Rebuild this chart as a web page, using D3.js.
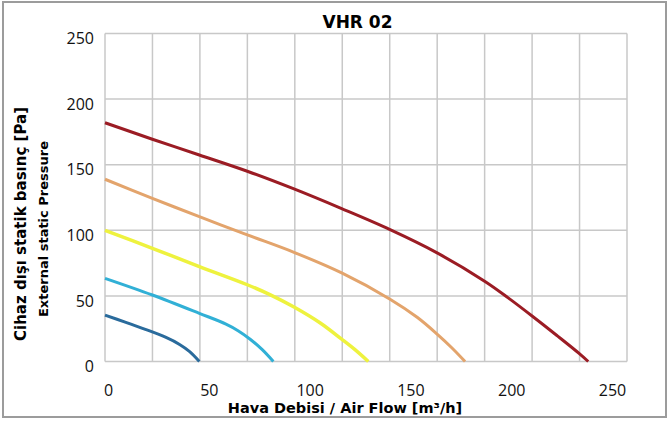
<!DOCTYPE html>
<html>
<head>
<meta charset="utf-8">
<script src="https://cdn.jsdelivr.net/npm/d3@7"></script>
<style>
  html, body { margin: 0; padding: 0; background: #fff; }
  svg { display: block; }
</style>
</head>
<body>
<svg id="chart" width="669" height="421"></svg>
<script>
// ---- data ----
const chartTitle = "VHR 02";
const xTitle = "Hava Debisi / Air Flow [m³/h]";
const yTitleLine1 = "Cihaz dışı statik basınç [Pa]";
const yTitleLine2 = "External static Pressure";
const xTickValues = [0, 50, 100, 150, 200, 250];
const yTickValues = [0, 50, 100, 150, 200, 250];

// fan curves: [air flow m³/h, pressure Pa]
const curveSpeed1 = [[0,35.4],[10,30],[20,24.5],[30,18.5],[37,13],[42,7.5],[46.8,0]];
const curveSpeed2 = [[0,63.4],[23.5,50.7],[46.8,36.7],[60,28.5],[66,23.5],[72,17],[78,9],[83.5,0]];
const curveSpeed3 = [[0,100],[23.5,86.3],[46.8,72.3],[70.6,58.5],[81.8,51],[93.75,41.5],[106.6,29.5],[117.4,17],[124,9],[130.6,0]];
const curveSpeed4 = [[0,138.9],[23.5,124.4],[46.8,110.4],[70.6,96.5],[93.75,83.2],[117.4,67.5],[141.4,47.5],[155,33.5],[165,20.5],[172,10.5],[178.6,0]];
const curveSpeed5 = [[0,182],[23.5,169.4],[46.8,157.4],[70.6,145],[93.75,131.5],[117.4,116.5],[141.4,100.5],[164.5,83],[188.5,61],[200,48.5],[212,34.5],[224,20],[235.3,6],[239.7,0]];
const curveColors = ["#2a6b9c", "#31b0d6", "#eef23e", "#e3a46c", "#9b1c24"];

// ---- layout ----
const svg = d3.select("#chart");
const plot = { left: 105, right: 627, top: 33.5, bottom: 361.5 };
const x = d3.scaleLinear().domain([0, 250]).range([plot.left, 609]);
const y = d3.scaleLinear().domain([0, 250]).range([plot.bottom, plot.top]);

// outer border
svg.append("rect").attr("x", 3).attr("y", 2).attr("width", 663).attr("height", 415)
  .attr("fill", "#fff").attr("stroke", "#9c9c9c").attr("stroke-width", 2);

// grid
const grid = svg.append("g").attr("stroke", "#c8c8c8").attr("stroke-width", 1.5);
const xMax = x.invert(plot.right);
d3.range(12).forEach(i => {
  const gx = x(i * xMax / 11);
  grid.append("line").attr("x1", gx).attr("x2", gx).attr("y1", plot.top).attr("y2", plot.bottom);
});
yTickValues.forEach(v => {
  grid.append("line").attr("x1", plot.left).attr("x2", plot.right).attr("y1", y(v)).attr("y2", y(v));
});

// curves
const line = d3.line().x(d => x(d[0])).y(d => y(d[1])).curve(d3.curveCatmullRom.alpha(0.5));
[curveSpeed1, curveSpeed2, curveSpeed3, curveSpeed4, curveSpeed5].forEach((s, i) => {
  svg.append("path").datum(s).attr("d", line).attr("fill", "none")
    .attr("stroke", curveColors[i]).attr("stroke-width", i === 2 ? 3.5 : 3)
    .attr("stroke-linecap", "butt").attr("stroke-linejoin", "round");
});

// axis labels via d3 axes (domain/ticks hidden)
const xAxis = svg.append("g").attr("transform", `translate(3,${plot.bottom})`)
  .call(d3.axisBottom(x).tickValues(xTickValues).tickSize(0).tickPadding(23));
const yAxis = svg.append("g").attr("transform", `translate(${plot.left - 11},5)`)
  .call(d3.axisLeft(y).tickValues(yTickValues).tickSize(0).tickPadding(0));
[xAxis, yAxis].forEach(a => {
  a.select(".domain").remove();
  a.selectAll("text").attr("font-family", "'Open Sans', sans-serif").attr("font-size", 16).attr("fill", "#111");
});

// titles
svg.append("text").attr("x", 357.5).attr("y", 28).attr("text-anchor", "middle")
  .attr("font-family", "'DejaVu Sans', Verdana, sans-serif").attr("font-weight", "bold")
  .attr("font-size", 17).attr("fill", "#000").text(chartTitle);

svg.append("text").attr("x", 345).attr("y", 413).attr("text-anchor", "middle")
  .attr("font-family", "'DejaVu Sans', Verdana, sans-serif").attr("font-weight", "bold")
  .attr("font-size", 14.5).attr("fill", "#000").text(xTitle);

svg.append("text").attr("transform", "translate(26,224) rotate(-90)").attr("text-anchor", "middle")
  .attr("font-family", "'DejaVu Sans', Verdana, sans-serif").attr("font-weight", "bold")
  .attr("font-size", 15).attr("fill", "#000").text(yTitleLine1);

svg.append("text").attr("transform", "translate(48,229) rotate(-90)").attr("text-anchor", "middle")
  .attr("font-family", "'DejaVu Sans', Verdana, sans-serif").attr("font-weight", "bold")
  .attr("font-size", 13).attr("fill", "#000").text(yTitleLine2);
</script>
</body>
</html>
